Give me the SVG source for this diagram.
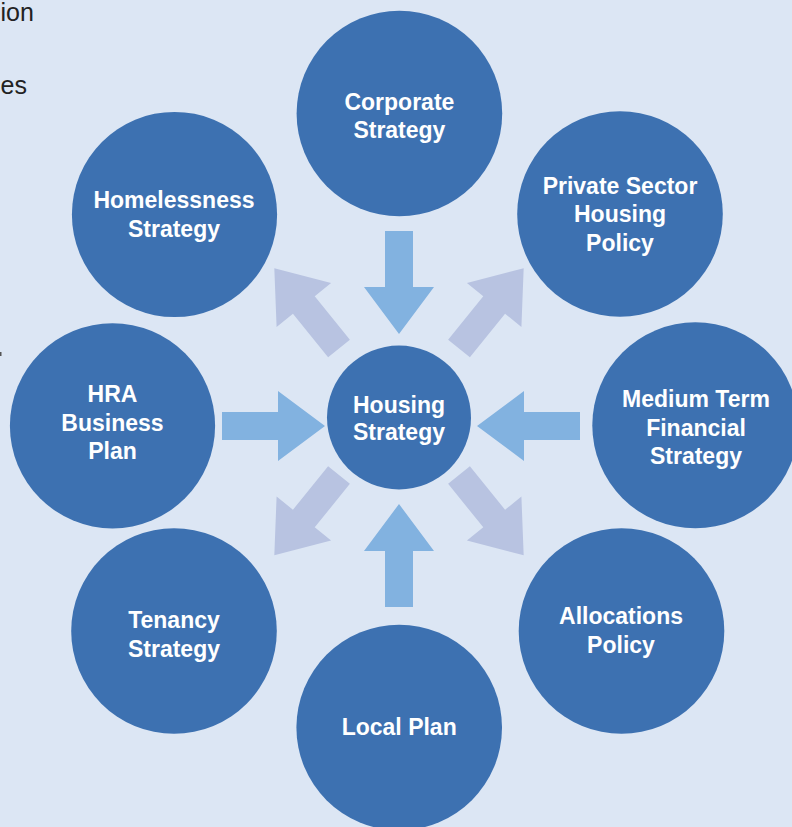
<svg xmlns="http://www.w3.org/2000/svg" width="792" height="827" viewBox="0 0 792 827">
<defs>
<style>
.bg{fill:#DCE6F4}
.node{fill:#3D71B1}
.lbl{font-family:"Liberation Sans",Arial,Helvetica,sans-serif;font-weight:bold;font-size:23px;fill:#FFFFFF;text-anchor:middle}
.frag{font-family:"Liberation Sans",Arial,Helvetica,sans-serif;font-size:25px;fill:#222222}
.ain{fill:#82B2E0}
.aout{fill:#B8C3E1}
</style>
<polygon id="arrow" points="0,-14 56,-14 56,-35 103,0 56,35 56,14 0,14"/>
</defs>
<rect class="bg" x="0" y="0" width="792" height="827"/>
<g id="fragments">
<text class="frag" x="0.5" y="21">ion</text>
<text class="frag" x="0.5" y="94">es</text>
<rect x="0" y="352" width="1.5" height="4" fill="#555555"/>
</g>
<g id="connectors">
<use href="#arrow" class="ain" transform="translate(399,231) rotate(90)"/>
<use href="#arrow" class="ain" transform="translate(399,607) rotate(-90)"/>
<use href="#arrow" class="ain" transform="translate(222,426)"/>
<use href="#arrow" class="ain" transform="translate(580,426) rotate(180)"/>
<use href="#arrow" class="aout" transform="translate(339,348.5) rotate(-128.9)"/>
<use href="#arrow" class="aout" transform="translate(459,348.5) rotate(-51.1)"/>
<use href="#arrow" class="aout" transform="translate(339,475) rotate(128.9)"/>
<use href="#arrow" class="aout" transform="translate(459,475) rotate(51.1)"/>
</g>
<g id="corporate">
<circle class="node" cx="399.4" cy="113.5" r="102.8"/>
<text class="lbl" x="399.4" y="109.5">Corporate</text>
<text class="lbl" x="399.4" y="137.5">Strategy</text>
</g>
<g id="private-sector">
<circle class="node" cx="620" cy="214" r="102.8"/>
<text class="lbl" x="620" y="193.5">Private Sector</text>
<text class="lbl" x="620" y="222">Housing</text>
<text class="lbl" x="620" y="250.5">Policy</text>
</g>
<g id="medium-term">
<circle class="node" cx="695.3" cy="425.3" r="103"/>
<text class="lbl" x="696" y="407.3">Medium Term</text>
<text class="lbl" x="696" y="435.7">Financial</text>
<text class="lbl" x="696" y="463.5">Strategy</text>
</g>
<g id="allocations">
<circle class="node" cx="621.5" cy="631" r="102.8"/>
<text class="lbl" x="621" y="624">Allocations</text>
<text class="lbl" x="621" y="652.5">Policy</text>
</g>
<g id="local-plan">
<circle class="node" cx="399.2" cy="727.5" r="102.8"/>
<text class="lbl" x="399.2" y="735">Local Plan</text>
</g>
<g id="tenancy">
<circle class="node" cx="174" cy="631" r="102.8"/>
<text class="lbl" x="174" y="628">Tenancy</text>
<text class="lbl" x="174" y="656.5">Strategy</text>
</g>
<g id="hra">
<circle class="node" cx="112.5" cy="425.8" r="102.6"/>
<text class="lbl" x="112.5" y="402.3">HRA</text>
<text class="lbl" x="112.5" y="430.7">Business</text>
<text class="lbl" x="112.5" y="459">Plan</text>
</g>
<g id="homelessness">
<circle class="node" cx="174.5" cy="214.5" r="102.6"/>
<text class="lbl" x="174" y="208.3">Homelessness</text>
<text class="lbl" x="174" y="236.7">Strategy</text>
</g>
<g id="housing-strategy">
<circle class="node" cx="399" cy="417.5" r="72"/>
<text class="lbl" x="399" y="412.7">Housing</text>
<text class="lbl" x="399" y="440">Strategy</text>
</g>
</svg>
